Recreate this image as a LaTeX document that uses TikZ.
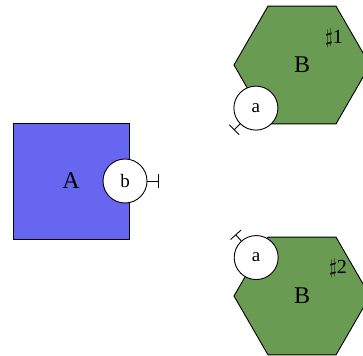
\documentclass[tikz,border=0pt]{standalone}
\usepackage{fontspec}
\setmainfont{Liberation Serif}
\usetikzlibrary{positioning, shapes.geometric, arrows.meta}
\definecolor{boxblue}{RGB}{102,102,240}
\definecolor{hexgreen}{RGB}{106,155,82}
\tikzset{
  compbox/.style={draw=black,fill=boxblue,minimum size=116pt,inner sep=0pt,outer sep=0pt,
    font=\fontsize{24}{28}\selectfont},
  comphex/.style={draw=black,fill=hexgreen,regular polygon,regular polygon sides=6,
    minimum size=136pt,inner sep=0pt,outer sep=0pt,font=\fontsize{24}{28}\selectfont},
  portcirc/.style={draw=black,fill=white,circle,minimum size=44pt,inner sep=0pt,
    font=\fontsize{19}{22}\selectfont},
  portstub/.style={black,-{Bar[width=14pt]}},
  tag/.style={inner sep=0pt,font=\fontsize{20}{24}\selectfont}
}
\begin{document}
\begin{tikzpicture}[x=1pt,y=-1pt,line width=0.9pt]
\useasboundingbox (0,0) rectangle (363,355);
% component A
\node[compbox] (A) at (71,181) {A};
\node[portcirc,xshift=-4pt] (b) at (A.east) {b};
\coordinate[right=11pt of b] (bp);
\draw[portstub] (b) -- (bp);
% first B
\node[comphex] (B1) at (302,65) {B};
\node[tag] (t1) at ([shift={(32,-27)}]B1.center) {$\sharp$1};
\node[portcirc,xshift=-3pt] (a1) at (B1.225) {a};
\coordinate[shift={(225:31pt)}] (a1p) at (a1);
\draw[portstub] (a1) -- (a1p);
% second B
\node[comphex] (B2) at (302,296) {B};
\node[tag] (t2) at ([shift={(36,-28)}]B2.center) {$\sharp$2};
\node[portcirc] (a2) at (B2.140) {a};
\coordinate[shift={(132:31pt)}] (a2p) at (a2);
\draw[portstub] (a2) -- (a2p);
\end{tikzpicture}
\end{document}
